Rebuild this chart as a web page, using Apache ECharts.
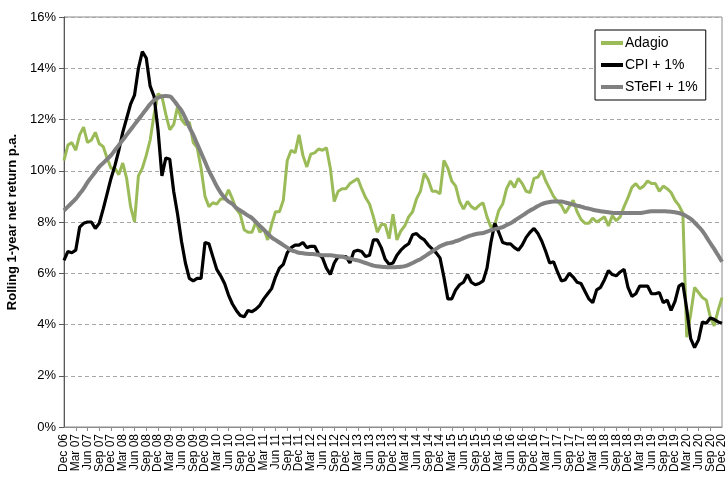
<!DOCTYPE html>
<html>
<head>
<meta charset="utf-8">
<script src="https://cdn.jsdelivr.net/npm/echarts@6/dist/echarts.min.js"></script>
<style>
  html, body { margin: 0; padding: 0; background: #fff; }
  #chart { width: 726px; height: 482px; }
</style>
</head>
<body>
<div id="chart"></div>
<script>
// month names and first / last month of the series (Dec 2006 .. Dec 2020)
const monthNames = ['Jan', 'Feb', 'Mar', 'Apr', 'May', 'Jun', 'Jul', 'Aug', 'Sep', 'Oct', 'Nov', 'Dec']
const startYear = 2006
const startMonth = 11
const monthCount = 169

// rolling 1-year net return, % p.a.
const adagio = [
  10.4, 11.0, 11.1, 10.8, 11.4, 11.7, 11.1, 11.2, 11.5, 11.05,
  10.95, 10.5, 10.1, 10.1, 9.85, 10.3, 9.7, 8.6, 8.0, 9.8,
  10.1, 10.6, 11.2, 12.2, 13.0, 12.9, 12.2, 11.6, 11.8, 12.5,
  12.0, 11.8, 11.9, 11.1, 10.9, 10.1, 9.0, 8.6, 8.75, 8.7,
  8.9, 8.9, 9.25, 8.9, 8.5, 8.3, 7.7, 7.6, 7.6, 8.0,
  7.6, 7.75, 7.3, 7.9, 8.4, 8.4, 8.85, 10.4, 10.8, 10.7,
  11.4, 10.6, 10.15, 10.65, 10.7, 10.85, 10.8, 10.9, 10.1, 8.8,
  9.2, 9.3, 9.3, 9.5, 9.6, 9.7, 9.3, 8.95, 8.7, 8.2,
  7.6, 7.9, 7.9, 7.35, 8.3, 7.3, 7.65, 7.85, 8.2, 8.4,
  8.9, 9.2, 9.9, 9.65, 9.2, 9.2, 9.1, 10.4, 10.1, 9.6,
  9.4, 8.8, 8.5, 8.8, 8.6, 8.5, 8.65, 8.75, 8.2, 7.8,
  7.9, 8.45, 8.7, 9.3, 9.6, 9.35, 9.7, 9.5, 9.2, 9.15,
  9.7, 9.75, 10.0, 9.6, 9.3, 9.0, 8.8, 8.65, 8.35, 8.6,
  8.85, 8.4, 8.1, 7.95, 7.95, 8.15, 8.0, 8.1, 8.2, 7.85,
  8.25, 8.05, 8.2, 8.6, 8.95, 9.35, 9.5, 9.3, 9.4, 9.6,
  9.5, 9.5, 9.2, 9.4, 9.3, 9.15, 8.85, 8.65, 8.35, 3.5,
  4.4, 5.45, 5.25, 5.05, 4.95, 4.3, 3.95, 4.55, 5.05
]

const cpi = [
  6.5, 6.85, 6.8, 6.9, 7.8, 7.95, 8.0, 8.0, 7.75, 7.95,
  8.5, 9.1, 9.7, 10.2, 10.8, 11.5, 12.05, 12.6, 12.95, 14.0,
  14.65, 14.4, 13.3, 12.9, 11.6, 9.8, 10.5, 10.45, 9.2, 8.3,
  7.25, 6.4, 5.8, 5.7, 5.8, 5.8, 7.2, 7.15, 6.65, 6.15,
  5.9, 5.6, 5.15, 4.8, 4.55, 4.35, 4.3, 4.55, 4.5, 4.6,
  4.75, 5.0, 5.2, 5.4, 5.85, 6.2, 6.35, 6.8, 7.0, 7.1,
  7.1, 7.2, 7.0, 7.05, 7.05, 6.75, 6.6, 6.2, 5.95, 6.4,
  6.65, 6.65, 6.65, 6.4, 6.85, 6.9, 6.85, 6.65, 6.7, 7.3,
  7.3, 7.0, 6.55, 6.35, 6.4, 6.7, 6.9, 7.05, 7.15, 7.5,
  7.55, 7.4, 7.3, 7.1, 6.95, 6.8, 6.6, 5.85, 5.0, 5.0,
  5.35, 5.55, 5.65, 5.95, 5.65, 5.55, 5.6, 5.7, 6.2, 7.2,
  7.95, 7.6, 7.2, 7.15, 7.15, 7.0, 6.9, 7.1, 7.4, 7.6,
  7.75, 7.55, 7.25, 6.85, 6.4, 6.45, 6.05, 5.7, 5.75, 6.0,
  5.85, 5.65, 5.6, 5.3, 5.0, 4.85, 5.35, 5.45, 5.75, 6.1,
  5.95, 5.9, 6.05, 6.15, 5.45, 5.1, 5.2, 5.5, 5.5, 5.5,
  5.2, 5.2, 5.25, 4.85, 4.95, 4.55, 4.9, 5.5, 5.6, 4.6,
  3.45, 3.1, 3.4, 4.1, 4.05, 4.25, 4.2, 4.1, 4.05
]

const stefi = [
  8.45, 8.6, 8.75, 8.9, 9.1, 9.3, 9.55, 9.75, 9.95, 10.15,
  10.3, 10.45, 10.6, 10.8, 11.0, 11.2, 11.4, 11.6, 11.8, 12.0,
  12.2, 12.4, 12.6, 12.75, 12.85, 12.9, 12.92, 12.9, 12.75, 12.55,
  12.35, 12.05, 11.7, 11.4, 11.05, 10.7, 10.35, 10.0, 9.7, 9.4,
  9.15, 8.95, 8.8, 8.7, 8.55, 8.45, 8.35, 8.25, 8.15, 8.0,
  7.85, 7.7, 7.55, 7.4, 7.3, 7.2, 7.1, 7.0, 6.9, 6.85,
  6.8, 6.78, 6.76, 6.75, 6.74, 6.72, 6.7, 6.7, 6.7, 6.68,
  6.66, 6.65, 6.6, 6.57, 6.53, 6.5, 6.45, 6.4, 6.35, 6.3,
  6.27, 6.25, 6.24, 6.23, 6.23, 6.24, 6.25, 6.28, 6.33, 6.4,
  6.48, 6.55, 6.65, 6.75, 6.85, 6.95, 7.05, 7.12, 7.17, 7.2,
  7.25, 7.3, 7.37, 7.43, 7.48, 7.52, 7.55, 7.57, 7.62, 7.68,
  7.72, 7.76, 7.8, 7.88, 7.95, 8.05, 8.15, 8.25, 8.35, 8.45,
  8.53, 8.62, 8.7, 8.75, 8.78, 8.8, 8.8, 8.8, 8.76, 8.72,
  8.68, 8.64, 8.6, 8.55, 8.52, 8.48, 8.45, 8.42, 8.4, 8.38,
  8.36, 8.35, 8.35, 8.35, 8.35, 8.35, 8.35, 8.35, 8.37, 8.4,
  8.42, 8.42, 8.42, 8.42, 8.41, 8.4, 8.38, 8.35, 8.3, 8.22,
  8.12, 7.98, 7.82, 7.65, 7.42, 7.18, 6.95, 6.7, 6.45
]

// category labels like "Dec 06"
const months = []
for (let i = 0; i < monthCount; i++) {
  const m = (startMonth + i) % 12
  const y = startYear + Math.floor((startMonth + i) / 12)
  months.push(monthNames[m] + ' ' + String(y % 100).padStart(2, '0'))
}

const font = 'Liberation Sans, Arial, sans-serif'

// shared look of the rotated month labels
const monthLabel = {
  rotate: 90,
  margin: 7,
  fontSize: 12,
  color: '#000',
  fontFamily: font
}

const myChart = echarts.init(document.getElementById('chart'))

const option = {
  animation: false,
  textStyle: { fontFamily: font },
  grid: {
    left: 64,
    right: 4,
    top: 17,
    bottom: 55,
    outerBoundsMode: 'none',
    containLabel: false,
    show: true,
    borderColor: '#8c8c8c',
    borderWidth: 1
  },
  legend: {
    orient: 'vertical',
    left: 595,
    top: 30,
    padding: [6, 8, 6, 6],
    itemGap: 8,
    itemWidth: 22,
    itemHeight: 4,
    icon: 'rect',
    borderColor: '#000',
    borderWidth: 1,
    backgroundColor: '#fff',
    textStyle: { fontSize: 14, color: '#000', fontFamily: font, padding: [0, 0, 0, -3] },
    data: ['Adagio', 'CPI + 1%', 'STeFI + 1%']
  },
  xAxis: [
    {
      // quarterly labels in between the two ends
      type: 'category',
      boundaryGap: false,
      data: months,
      axisLine: { lineStyle: { color: '#8c8c8c', width: 1 } },
      axisTick: { show: true, interval: 2, length: 4, lineStyle: { color: '#8c8c8c' } },
      axisLabel: Object.assign({ interval: 2, showMinLabel: false, showMaxLabel: false }, monthLabel),
      splitLine: { show: false }
    },
    {
      // first and last labels (Dec 06, Dec 20) on an overlaid axis
      type: 'category',
      boundaryGap: false,
      position: 'bottom',
      data: months,
      axisLine: { show: false },
      axisTick: { show: false },
      axisLabel: Object.assign({
        interval: (idx) => idx === 0 || idx === monthCount - 1,
        showMinLabel: true,
        showMaxLabel: true
      }, monthLabel),
      splitLine: { show: false }
    }
  ],
  yAxis: {
    type: 'value',
    min: 0,
    max: 16,
    interval: 2,
    name: 'Rolling 1-year net return p.a.',
    nameLocation: 'middle',
    nameGap: 43,
    nameTextStyle: { fontSize: 13, fontWeight: 'bold', color: '#000', fontFamily: font },
    axisLine: { show: true, lineStyle: { color: '#595959', width: 1 } },
    axisTick: { show: true, length: 5, lineStyle: { color: '#595959' } },
    axisLabel: { formatter: '{value}%', fontSize: 13, color: '#000', margin: 8, fontFamily: font },
    splitLine: { lineStyle: { type: [4, 3], color: '#a6a6a6', width: 1 } }
  },
  series: [
    {
      name: 'Adagio',
      type: 'line',
      data: adagio,
      symbol: 'none',
      itemStyle: { color: '#9bbb59' },
      lineStyle: { color: '#9bbb59', width: 3 }
    },
    {
      name: 'CPI + 1%',
      type: 'line',
      data: cpi,
      symbol: 'none',
      itemStyle: { color: '#000000' },
      lineStyle: { color: '#000000', width: 3.2 }
    },
    {
      name: 'STeFI + 1%',
      type: 'line',
      data: stefi,
      symbol: 'none',
      smooth: true,
      itemStyle: { color: '#808080' },
      lineStyle: { color: '#808080', width: 4 }
    }
  ]
}

myChart.setOption(option)

window.addEventListener('resize', () => {
  myChart.resize()
})
</script>
</body>
</html>
